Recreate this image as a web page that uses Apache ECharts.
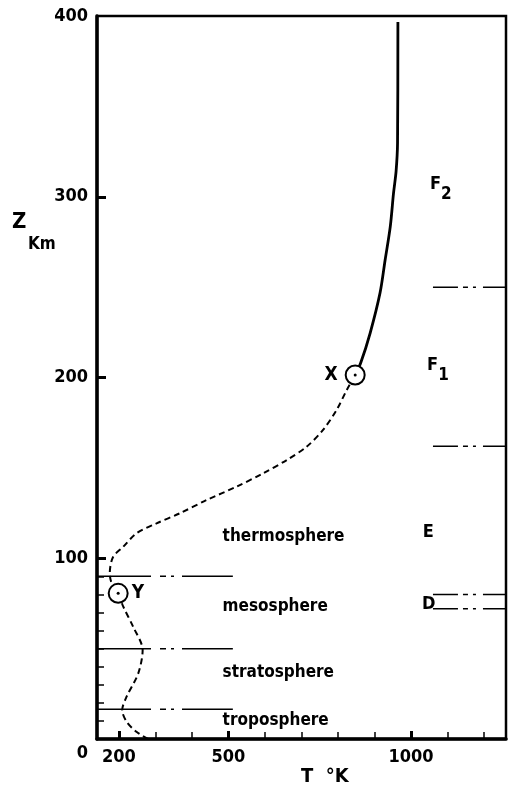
<!DOCTYPE html>
<html>
<head>
<meta charset="utf-8">
<script src="https://cdn.jsdelivr.net/npm/echarts@6/dist/echarts.min.js"></script>
<style>
  html, body { margin: 0; padding: 0; background: #fff; }
  #chart { width: 513px; height: 791px; }
</style>
</head>
<body>
<div id="chart"></div>
<script>
// temperature profile (T in K, Z in km)
var dashT = [280, 248, 221, 209, 221, 253, 265, 239, 212, 198, 180, 175, 184, 212, 248, 303, 367, 440, 522, 595, 660, 714, 759, 796, 824, 847];
var dashZ = [0, 4, 9.6, 16, 23.4, 36.3, 49.2, 62.1, 73.2, 80.6, 86.3, 91.7, 100.7, 106.4, 113.8, 119.3, 124.9, 132.2, 139.6, 147, 154.4, 161.7, 171, 182, 193.1, 201.4];
var solidT = [847, 862, 888, 915, 929, 943, 952, 959, 963, 964];
var solidZ = [201.4, 208, 224.6, 246.7, 265, 283.3, 302, 314, 330, 396.7];

// marked points X and Y
var markNames = ['X', 'Y'];
var markT = [847, 198];
var markZ = [201.4, 80.6];

// boundaries between atmosphere layers (left) and ionosphere regions (right)
var layerZ = [16.5, 50, 90];
var layerT = [140, 512];
var ionoZ = [72, 80, 162, 250];
var ionoT = [1060, 1260];

var layerNames = ['troposphere', 'stratosphere', 'mesosphere', 'thermosphere'];
var layerLabelZ = [10, 37, 73, 112];
var layerLabelT = 484;

var regionNames = ['D', 'E', 'F1', 'F2'];
var regionT = [1030, 1032, 1044, 1052];
var regionZ = [74.7, 114.5, 204, 304];

var xLabels = [200, 500, 1000];
var xMinor = [300, 400, 600, 700, 800, 900, 1100, 1200];
var yMinor = [10, 20, 30, 40, 50, 60, 70, 80, 90];

var FONT = "'DejaVu Sans Condensed', 'Liberation Sans Narrow', 'Liberation Sans', sans-serif";

var myChart = echarts.init(document.getElementById('chart'));

function pairs(xs, ys) {
  return xs.map(function (x, i) { return [x, ys[i]]; });
}

var boundarySeries = [];
layerZ.forEach(function (z) {
  boundarySeries.push({
    type: 'line',
    data: [[layerT[0], z], [layerT[1], z]],
    symbol: 'none',
    lineStyle: { color: '#000', width: 1.5, type: [54, 9, 6, 5, 3, 8] },
    z: 2
  });
});
ionoZ.forEach(function (z) {
  boundarySeries.push({
    type: 'line',
    data: [[ionoT[0], z], [ionoT[1], z]],
    symbol: 'none',
    lineStyle: { color: '#000', width: 1.5, type: [25, 5, 5, 5, 3, 7] },
    z: 2
  });
});

var txt = { fontFamily: FONT, fontWeight: 'bold', color: '#000' };

var option = {
  animation: false,
  backgroundColor: '#fff',
  grid: {
    left: 97, right: 7, top: 16, bottom: 52,
    show: true, borderColor: '#000', borderWidth: 2.5
  },
  xAxis: [{
    type: 'value', min: 140, max: 1260, position: 'bottom',
    axisLine: { lineStyle: { color: '#000', width: 3.5 } },
    axisTick: { customValues: xLabels, inside: true, length: 8, lineStyle: { color: '#000', width: 3 } },
    axisLabel: Object.assign({
      customValues: xLabels, fontSize: 18, margin: 9,
      formatter: function (v) { return String(v); }
    }, txt),
    splitLine: { show: false }
  }, {
    type: 'value', min: 140, max: 1260, position: 'bottom',
    axisLine: { show: false },
    axisTick: { customValues: xMinor, inside: true, length: 7, lineStyle: { color: '#000', width: 1.5 } },
    axisLabel: { show: false },
    splitLine: { show: false }
  }],
  yAxis: [{
    type: 'value', min: 0, max: 400, interval: 100, position: 'left',
    axisLine: { show: true, lineStyle: { color: '#000', width: 3.5 } },
    axisTick: { customValues: [100, 200, 300], inside: true, length: 9, lineStyle: { color: '#000', width: 3 } },
    axisLabel: Object.assign({
      fontSize: 18, margin: 9,
      formatter: function (v) { return v === 0 ? '{low|0}' : String(v); },
      rich: { low: Object.assign({ fontSize: 18, padding: [28, 0, 0, 0] }, txt) }
    }, txt),
    splitLine: { show: false }
  }, {
    type: 'value', min: 0, max: 400, position: 'left',
    axisLine: { show: false },
    axisTick: { customValues: yMinor, inside: true, length: 7, lineStyle: { color: '#000', width: 1.5 } },
    axisLabel: { show: false },
    splitLine: { show: false }
  }],
  graphic: [
    { type: 'text', left: 12, top: 211, style: { text: 'Z', fill: '#000', font: 'bold 22px ' + FONT } },
    { type: 'text', left: 28, top: 236, style: { text: 'Km', fill: '#000', font: 'bold 17px ' + FONT } },
    { type: 'text', left: 301, top: 767, style: { text: 'T  °K', fill: '#000', font: 'bold 20px ' + FONT } }
  ],
  series: boundarySeries.concat([
    {
      type: 'line', data: pairs(dashT, dashZ), symbol: 'none', smooth: 0.3,
      lineStyle: { color: '#000', width: 2, type: [6, 4] }, z: 3
    },
    {
      type: 'line', data: pairs(solidT, solidZ), symbol: 'none', smooth: 0.3,
      lineStyle: { color: '#000', width: 2.8 }, z: 3
    },
    {
      type: 'scatter', symbol: 'circle', symbolSize: 19, z: 5,
      itemStyle: { color: '#fff', borderColor: '#000', borderWidth: 2, opacity: 1 },
      data: markNames.map(function (n, i) {
        return {
          value: [markT[i], markZ[i]], name: n,
          label: { show: true, position: i === 0 ? 'left' : 'right', distance: i === 0 ? 7 : 3 }
        };
      }),
      label: Object.assign({ formatter: '{b}', fontSize: 19 }, txt)
    },
    {
      type: 'scatter', symbol: 'circle', symbolSize: 3, z: 6,
      itemStyle: { color: '#000', opacity: 1 },
      data: pairs(markT, markZ)
    },
    {
      type: 'scatter', symbolSize: 0, z: 4,
      itemStyle: { opacity: 1 },
      data: layerNames.map(function (n, i) { return { value: [layerLabelT, layerLabelZ[i]], name: n }; }),
      label: Object.assign({ show: true, position: 'right', distance: 0, formatter: '{b}', fontSize: 17 }, txt)
    },
    {
      type: 'scatter', symbolSize: 0, z: 4,
      itemStyle: { opacity: 1 },
      data: regionNames.map(function (n, i) { return { value: [regionT[i], regionZ[i]], name: n }; }),
      label: Object.assign({
        show: true, position: 'right', distance: 0, fontSize: 18,
        formatter: function (p) {
          var n = p.name;
          return n.length > 1 ? '{f|' + n[0] + '}{s|' + n.slice(1) + '}' : n;
        },
        rich: {
          f: Object.assign({ fontSize: 18, verticalAlign: 'top', lineHeight: 28 }, txt),
          s: Object.assign({ fontSize: 17, verticalAlign: 'bottom', lineHeight: 28 }, txt)
        }
      }, txt)
    }
  ])
};

myChart.setOption(option);
</script>
</body>
</html>
